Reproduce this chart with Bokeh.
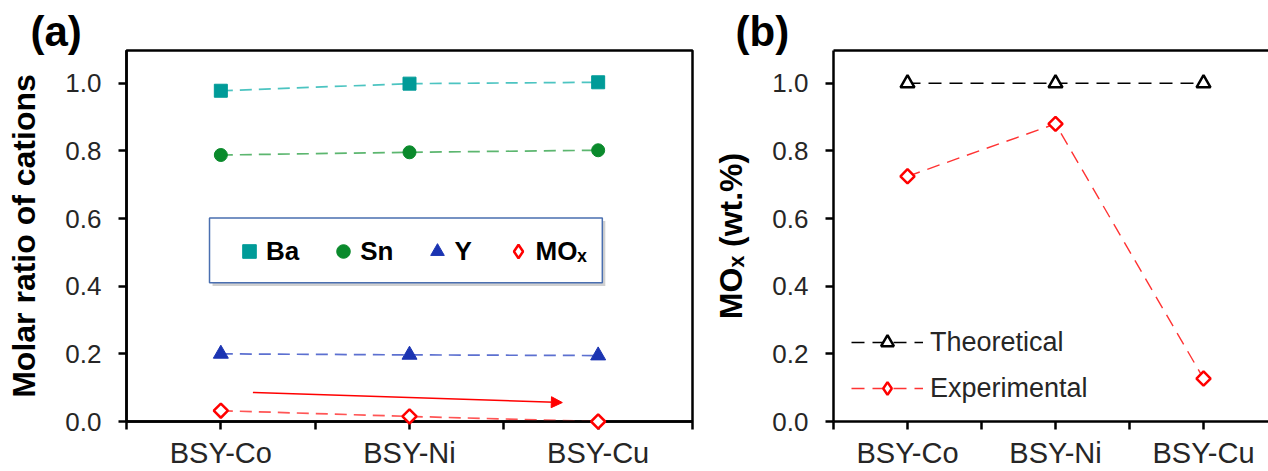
import numpy as np
from bokeh.plotting import figure
from bokeh.layouts import row
from bokeh.models import (Range1d, FixedTicker, NumeralTickFormatter, Legend, LegendItem,
                          Arrow, NormalHead, LinearAxis, BoxAnnotation)
from bokeh.embed import file_html
from bokeh.resources import INLINE

# ---------------- data ----------------
categories = ["BSY-Co", "BSY-Ni", "BSY-Cu"]
ba = [0.978, 0.999, 1.003]
sn = [0.788, 0.796, 0.802]
y_ratio = [0.200, 0.197, 0.195]
mox_ratio = [0.032, 0.015, 0.000]
theoretical = [1.0, 1.0, 1.0]
experimental = [0.725, 0.880, 0.127]
y_ticks = [0.0, 0.2, 0.4, 0.6, 0.8, 1.0]
arrow_x = [0.17, 1.81]
arrow_y = [0.086, 0.056]

xpos = list(range(len(categories)))
half_ticks = [i - 0.5 for i in range(len(categories) + 1)]
label_map = {i: c for i, c in enumerate(categories)}

FONT = "Liberation Sans"
TICK_COLOR = "#262626"


def style(p):
    p.xgrid.grid_line_color = None
    p.ygrid.grid_line_color = None
    p.background_fill_color = "white"
    p.border_fill_color = "white"
    xa = p.xaxis[0]
    xa.ticker = FixedTicker(ticks=xpos, minor_ticks=half_ticks)
    xa.major_label_overrides = label_map
    ya = p.yaxis[0]
    ya.ticker = FixedTicker(ticks=y_ticks, minor_ticks=[])
    ya.formatter = NumeralTickFormatter(format="0.0")
    for ax in (xa, ya):
        ax.axis_line_color = "black"
        ax.axis_line_width = 2.5
        ax.major_tick_line_color = "black"
        ax.major_tick_line_width = 2.5
        ax.major_tick_out = 8
        ax.major_tick_in = 0
        ax.minor_tick_line_color = "black"
        ax.minor_tick_line_width = 2.5
        ax.minor_tick_out = 8
        ax.minor_tick_in = 0
        ax.major_label_text_font = FONT
        ax.major_label_text_color = TICK_COLOR
        ax.axis_label_text_font = FONT
        ax.axis_label_text_font_style = "bold"
        ax.axis_label_text_color = "black"
        ax.axis_label_text_font_size = "32px"
    xa.major_label_text_font_size = "29px"
    ya.major_label_text_font_size = "26px"
    xa.major_label_standoff = 7
    ya.major_label_standoff = 17
    ya.axis_label_standoff = 20
    t = p.title
    t.text_font = FONT
    t.text_font_style = "bold"
    t.text_font_size = "42px"
    t.text_color = "black"
    t.align = "left"
    t.vertical_align = "bottom"
    t.standoff = -8


# ---------------- panel (a) ----------------
pa = figure(width=710, height=471, output_backend="svg", toolbar_location=None,
            title="(a)",
            x_range=Range1d(-0.5, 2.5), y_range=Range1d(0, 1.097),
            min_border_left=126, min_border_right=18, min_border_top=50, min_border_bottom=49)
style(pa)
pa.title.offset = -96
pa.yaxis.axis_label = "Molar ratio of cations"
pa.outline_line_color = "black"
pa.outline_line_width = 2.5
pa.outline_line_alpha = 1.0

ba_col, ba_line = "#009B98", "#4CC4C1"
sn_col, sn_line = "#0A8A2C", "#5CB66F"
y_col, y_line = "#1B34B2", "#5C70D0"
red = "#FF0000"

pa.line(xpos, ba, line_color=ba_line, line_width=1.7, line_dash="12 7")
r_ba = pa.scatter(xpos, ba, marker="square", size=13, fill_color=ba_col, line_color=ba_col)
pa.line(xpos, sn, line_color=sn_line, line_width=1.7, line_dash="12 7")
r_sn = pa.scatter(xpos, sn, marker="circle", size=13, fill_color=sn_col, line_color=sn_col)
pa.line(xpos, y_ratio, line_color=y_line, line_width=1.7, line_dash="12 7")
r_y = pa.scatter(xpos, y_ratio, marker="triangle", size=15, fill_color=y_col, line_color=y_col)
pa.line(xpos, mox_ratio, line_color="#FF5555", line_width=1.7, line_dash="12 7")
pa.scatter(xpos, mox_ratio, marker="square", angle=np.pi / 4, size=10,
           fill_color="white", line_color=red, line_width=2.5, level="overlay")
# legend-only glyph (not placed in the data area)
r_mox_key = pa.scatter([np.nan], [np.nan], marker="diamond", size=14,
                       fill_color="white", line_color=red, line_width=2.5)

pa.add_layout(Arrow(end=NormalHead(size=11, fill_color=red, line_color=red),
                    x_start=arrow_x[0], y_start=arrow_y[0], x_end=arrow_x[1], y_end=arrow_y[1],
                    line_color=red, line_width=1.5))

# legend frame with a soft drop shadow
pa.add_layout(BoxAnnotation(left=-0.044, right=2.038, top=0.593, bottom=0.401,
                            fill_color="#B0B0B0", fill_alpha=0.6, line_color=None))
pa.add_layout(BoxAnnotation(left=-0.060, right=2.022, top=0.602, bottom=0.410,
                            fill_color="white", fill_alpha=1.0,
                            line_color="#4A6FB0", line_width=1.5, line_alpha=1.0))
leg_a = Legend(items=[LegendItem(label="Ba", renderers=[r_ba]),
                      LegendItem(label="Sn", renderers=[r_sn]),
                      LegendItem(label="Y", renderers=[r_y]),
                      LegendItem(label="MOₓ", renderers=[r_mox_key])],
               orientation="horizontal", location=(106, 153), margin=0,
               border_line_color=None, background_fill_alpha=0.0,
               padding=0, spacing=27, glyph_width=34, glyph_height=34, label_standoff=0,
               label_text_font=FONT, label_text_font_style="bold", label_text_font_size="26px",
               label_text_color="black")
pa.add_layout(leg_a)

# ---------------- panel (b) ----------------
pb = figure(width=558, height=471, output_backend="svg", toolbar_location=None,
            title="(b)",
            x_range=Range1d(-0.5, 2.439), y_range=Range1d(0, 1.097),
            min_border_left=123, min_border_right=0, min_border_top=50, min_border_bottom=48)
style(pb)
pb.title.offset = -98
pb.yaxis.axis_label = "MOₓ (wt.%)"
pb.outline_line_color = None
top_ax = LinearAxis(ticker=FixedTicker(ticks=[]), major_label_text_font_size="0px",
                    major_tick_out=0, major_tick_in=0, minor_tick_out=0, minor_tick_in=0,
                    axis_line_color="black", axis_line_width=2.5)
pb.add_layout(top_ax, "above")

r_th_l = pb.line(xpos, theoretical, line_color="black", line_width=1.4, line_dash="13 8")
r_th_s = pb.scatter(xpos, theoretical, marker="triangle", size=14, fill_color="white",
                    line_color="black", line_width=2.5)
r_ex_l = pb.line(xpos, experimental, line_color="#FF3333", line_width=1.4, line_dash="13 8")
pb.scatter(xpos, experimental, marker="square", angle=np.pi / 4, size=10,
           fill_color="white", line_color=red, line_width=2.5)
r_ex_key = pb.scatter([np.nan], [np.nan], marker="diamond", size=14,
                      fill_color="white", line_color=red, line_width=2.5)

leg_b = Legend(items=[LegendItem(label="Theoretical", renderers=[r_th_l, r_th_s]),
                      LegendItem(label="Experimental", renderers=[r_ex_l, r_ex_key])],
               orientation="vertical", location=(18, 17), margin=0,
               border_line_color=None, background_fill_alpha=0.0,
               padding=0, spacing=14, glyph_width=72, glyph_height=32, label_standoff=7,
               label_text_font=FONT, label_text_font_size="27px", label_text_color=TICK_COLOR)
pb.add_layout(leg_b)

layout = row(pa, pb)
with open("out.html", "w") as f:
    f.write(file_html(layout, INLINE))
